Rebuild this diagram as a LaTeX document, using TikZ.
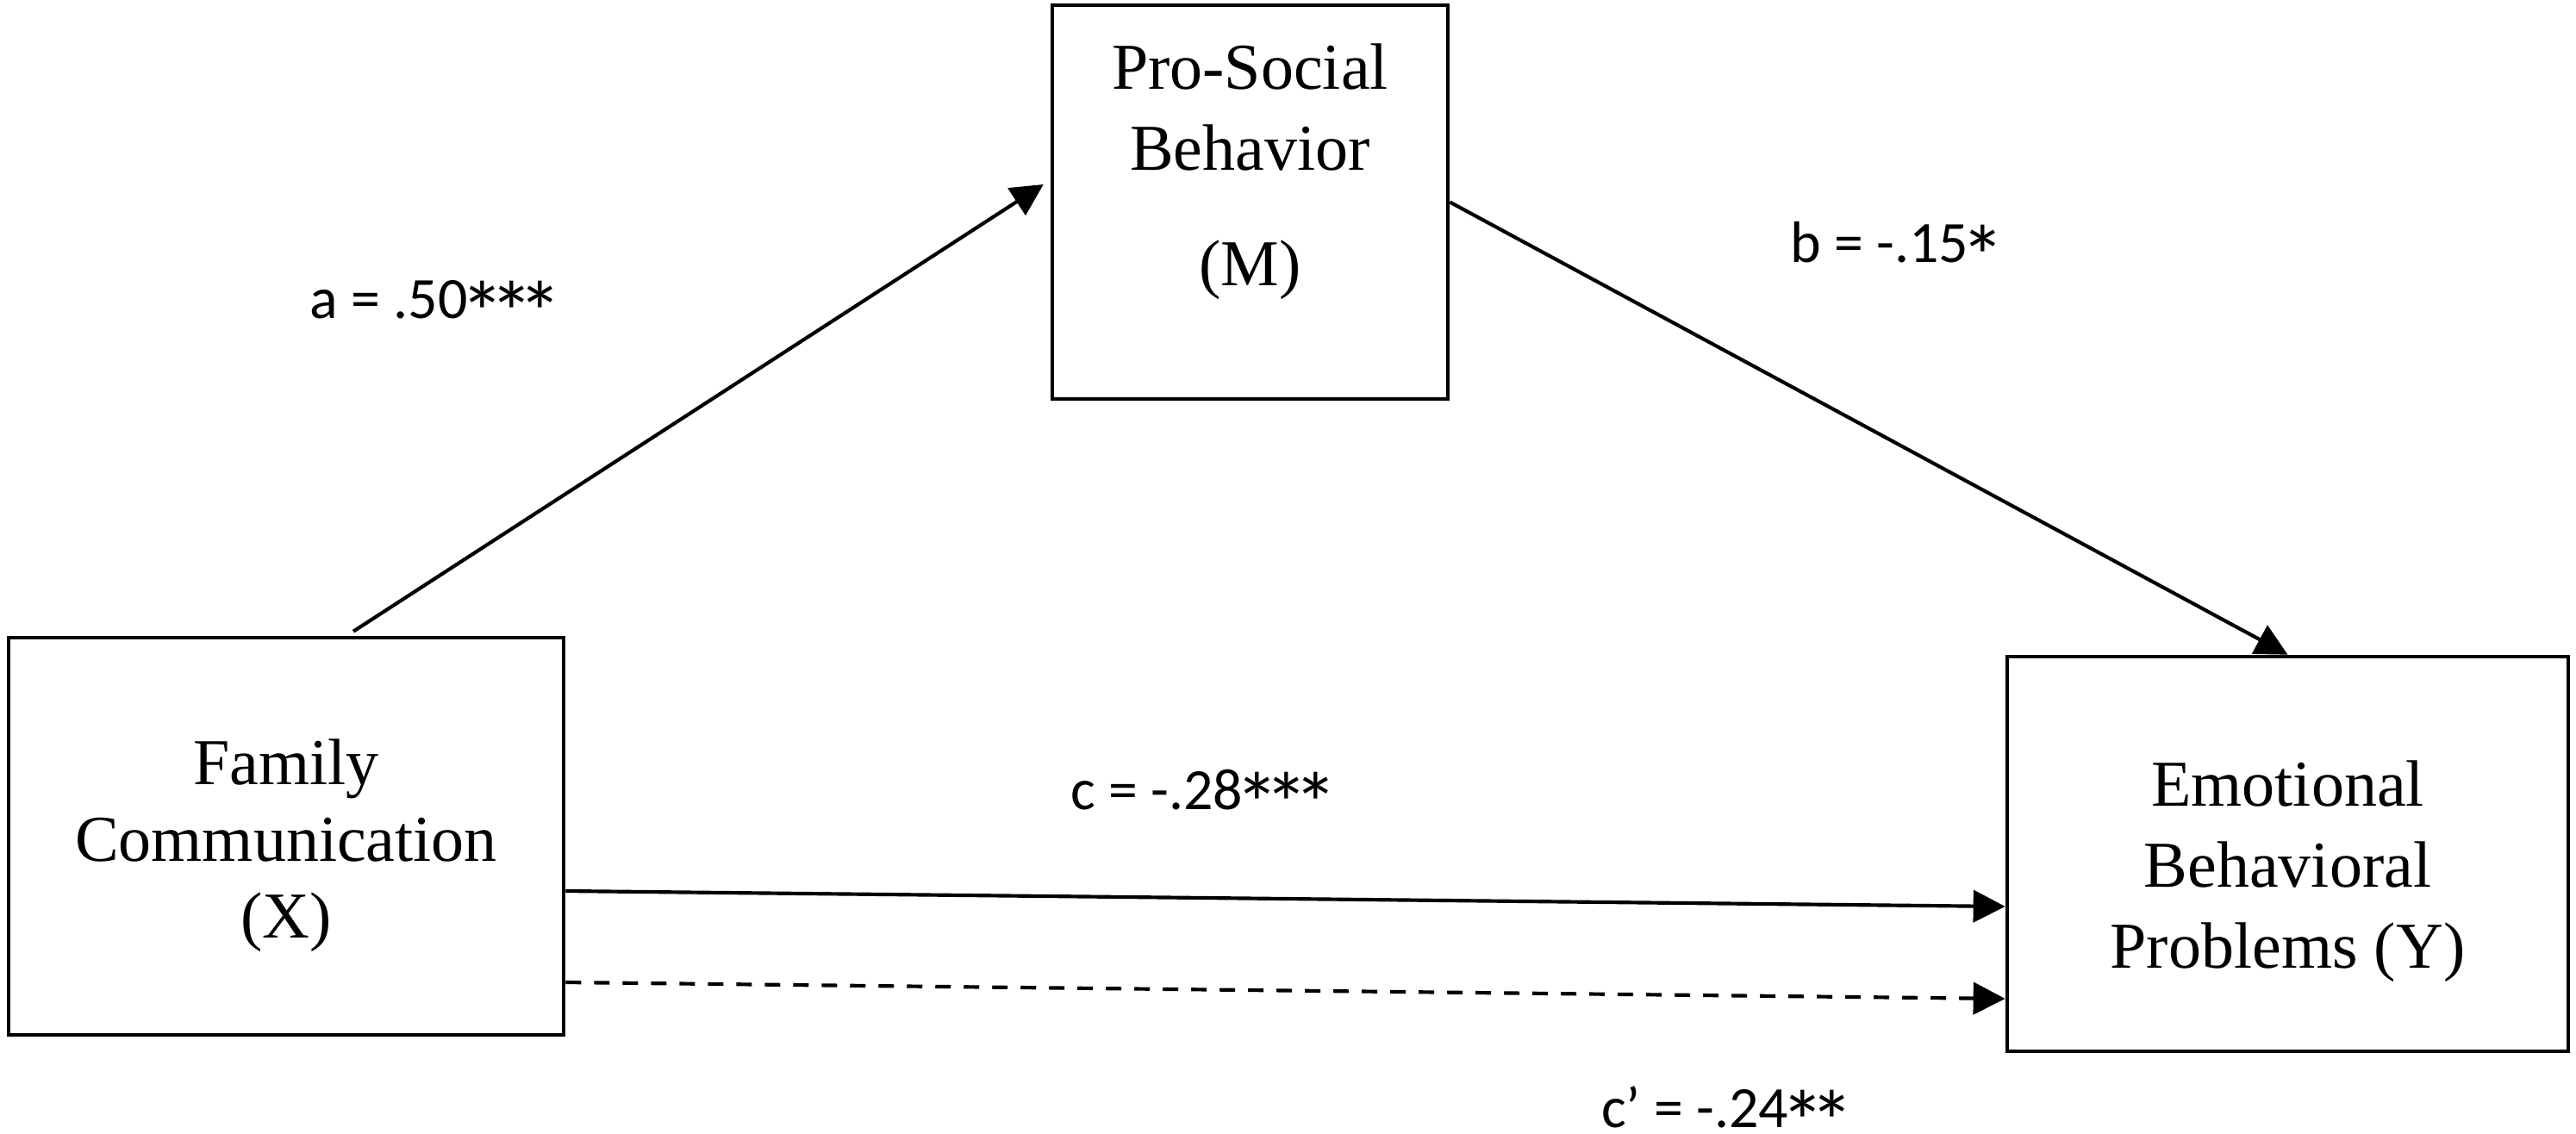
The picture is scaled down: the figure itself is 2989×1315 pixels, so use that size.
\documentclass[tikz,border=0pt]{standalone}
\usepackage{fontspec}
\usepackage{graphicx}
\setmainfont{Liberation Serif}
\newfontfamily\lblfont{Carlito}
\usetikzlibrary{arrows.meta,calc}
\newlength\myastht
\newcommand\bigast{\settoheight{\myastht}{*}\makebox[0.498em]{\raisebox{\dimexpr0.63em-1.5\myastht\relax}{\scalebox{1.5}{*}}}}
\begin{document}
\begin{tikzpicture}[x=0.24pt,y=-0.24pt,
  box/.style={draw=black, line width=1.1pt, fill=white, inner sep=0pt, align=center},
  lbl/.style={font=\lblfont\fontsize{16.3pt}{19pt}\selectfont, inner sep=0pt, anchor=base},
  conn/.style={line width=1pt, -{Triangle[length=8.9pt,width=8.9pt]}},
  dashconn/.style={conn, dash pattern=on 4.32pt off 3.6pt}
]
\useasboundingbox (0,0) rectangle (2989,1315);

% boxes
\node[box, minimum width=154.56pt, minimum height=110.64pt,
      font=\fontsize{18.24pt}{21.36pt}\selectfont] (X) at (332,970.5)
  {\rule{0pt}{18pt}Family\\Communication\\(X)};
\node[box, minimum width=110.16pt, minimum height=109.68pt,
      font=\fontsize{18.24pt}{22.56pt}\selectfont] (M) at (1450.5,234.5)
  {Pro-Social\\Behavior\\[9.6pt](M)\rule[-21pt]{0pt}{21pt}};
\node[box, minimum width=156.24pt, minimum height=109.92pt,
      font=\fontsize{18.24pt}{22.56pt}\selectfont] (Y) at (2654.5,991)
  {\rule{0pt}{22.4pt}Emotional\\Behavioral\\Problems (Y)};

% connector end points
\coordinate (a0) at ($(X.north)+(78,-5)$);
\coordinate (a1) at ($(M.west)+(-8,-20.5)$);
\coordinate (c0) at ($(X.east)+(0,63.5)$);
\coordinate (c1) at ($(Y.west)+(0,61)$);
\coordinate (d0) at ($(X.east)+(0,169.5)$);
\coordinate (d1) at ($(Y.west)+(0,168)$);

% connectors
\draw[conn] (a0) -- (a1);
\draw[conn] (M.east) -- (Y.north);
\draw[conn] (c0) -- (c1);
\draw[dashconn] (d0) -- (d1);

% labels
\node[lbl] (la) at (502,369) {a = .50\bigast\bigast\bigast};
\node[lbl] (lb) at (2197.5,304) {b = -.15\bigast};
\node[lbl] (lc) at (1393,939) {c = -.28\bigast\bigast\bigast};
\node[lbl] (lcp) at (2000.5,1308) {c’ = -.24\bigast\bigast};
\end{tikzpicture}
\end{document}
